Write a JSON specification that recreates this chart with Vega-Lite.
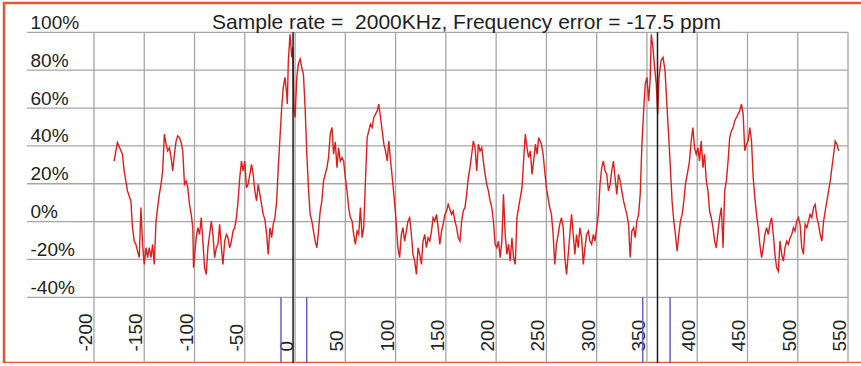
{
  "$schema": "https://vega.github.io/schema/vega-lite/v6.json",
  "width": 859,
  "height": 360,
  "autosize": {"type": "none"},
  "padding": {"left": 4, "top": 3, "right": 0, "bottom": 0},
  "background": "white",
  "config": {"view": {"stroke": "#e5553a", "strokeWidth": 2.5}, "font": "Liberation Sans"},
  "title": {"text": "Sample rate =\u00a0 2000KHz, Frequency error = -17.5 ppm", "fontSize": 21, "fontWeight": "normal", "font": "Liberation Sans", "color": "#1e1e1e", "anchor": "middle", "offset": -30, "dx": 33},
  "datasets": {
    "hgrid": [{"level": -40}, {"level": -20}, {"level": 0}, {"level": 20}, {"level": 40}, {"level": 60}, {"level": 80}, {"level": 100}],
    "vgrid": [{"lag": -200}, {"lag": -150}, {"lag": -100}, {"lag": -50}, {"lag": 0}, {"lag": 50}, {"lag": 100}, {"lag": 150}, {"lag": 200}, {"lag": 250}, {"lag": 300}, {"lag": 350}, {"lag": 400}, {"lag": 450}, {"lag": 500}, {"lag": 550}],
    "blue": [{"lag": -14}, {"lag": 11.6}, {"lag": 345.8}, {"lag": 373}],
    "black": [{"lag": -2}, {"lag": 360.5}],
    "series": [
      {"lag":-180,"level":32},{"lag":-176.7,"level":41.8},{"lag":-171.7,"level":35.6},{"lag":-170,"level":26.8},{"lag":-166.7,"level":16.2},{"lag":-163.3,"level":10.9},{"lag":-161.7,"level":-3.2},{"lag":-160,"level":-10.3},{"lag":-158.3,"level":-12},{"lag":-156.7,"level":-15.6},{"lag":-155,"level":-19},{"lag":-153.3,"level":7.4},{"lag":-151.7,"level":-12},{"lag":-150,"level":-22.6},{"lag":-148.3,"level":-13.8},{"lag":-146.7,"level":-19},{"lag":-145,"level":-13.8},{"lag":-143.3,"level":-19},{"lag":-141.7,"level":-12},{"lag":-140,"level":-22.6},{"lag":-138.3,"level":0.3},{"lag":-136.7,"level":7.4},{"lag":-135,"level":14.4},{"lag":-133.3,"level":19.7},{"lag":-131.7,"level":26.8},{"lag":-130,"level":46.2},{"lag":-128.3,"level":40.9},{"lag":-126.7,"level":37.4},{"lag":-125,"level":39},{"lag":-123.3,"level":33.8},{"lag":-121.7,"level":26.8},{"lag":-120,"level":35.6},{"lag":-118.3,"level":42.6},{"lag":-116.7,"level":45.3},{"lag":-115,"level":44.4},{"lag":-113.3,"level":41.8},{"lag":-111.7,"level":37.4},{"lag":-110,"level":19.7},{"lag":-108.3,"level":21.5},{"lag":-106.7,"level":17.9},{"lag":-105,"level":9.1},{"lag":-103.3,"level":3.8},{"lag":-101.7,"level":-3.2},{"lag":-101,"level":-24.4},{"lag":-98.3,"level":-8.5},{"lag":-96.7,"level":-3.2},{"lag":-95,"level":-6.8},{"lag":-93.3,"level":2.1},{"lag":-91.7,"level":-10.3},{"lag":-90,"level":-24.4},{"lag":-88.3,"level":-27.9},{"lag":-86.7,"level":-13.8},{"lag":-85,"level":-6.8},{"lag":-83.3,"level":0.3},{"lag":-81.7,"level":-6.8},{"lag":-80,"level":-19},{"lag":-78.3,"level":-13.8},{"lag":-76.7,"level":-12},{"lag":-75,"level":-1.4},{"lag":-73.3,"level":-13.8},{"lag":-71.7,"level":-22.6},{"lag":-70,"level":-10.3},{"lag":-68.3,"level":-6.8},{"lag":-66.7,"level":-8.5},{"lag":-65,"level":-13.8},{"lag":-63.3,"level":-10.3},{"lag":-61.7,"level":-5},{"lag":-60,"level":-3.2},{"lag":-58.3,"level":2.1},{"lag":-56.7,"level":10.9},{"lag":-55,"level":23.2},{"lag":-53.3,"level":32},{"lag":-51.7,"level":26.8},{"lag":-50,"level":32},{"lag":-48.3,"level":17.9},{"lag":-46.7,"level":19.7},{"lag":-45,"level":25},{"lag":-43.3,"level":30.3},{"lag":-41.7,"level":25},{"lag":-40,"level":16.2},{"lag":-38.3,"level":10.9},
      {"lag":-36.7,"level":19.7},{"lag":-35,"level":14.4},{"lag":-33.3,"level":9.1},{"lag":-31.7,"level":3.8},{"lag":-30,"level":1.2},{"lag":-28.3,"level":-6.7},{"lag":-26.7,"level":-17.3},{"lag":-25,"level":-3.2},{"lag":-23.3,"level":-8.5},{"lag":-21.7,"level":-1.4},{"lag":-20,"level":2.1},{"lag":-18.3,"level":10.9},{"lag":-16.7,"level":28.5},{"lag":-15,"level":44.4},{"lag":-13.3,"level":60.3},{"lag":-11.7,"level":70.9},{"lag":-10,"level":76.2},{"lag":-8.3,"level":67.4},{"lag":-7.7,"level":62.1},{"lag":-6.7,"level":85},{"lag":-5,"level":99},{"lag":-3.3,"level":86.8},{"lag":-2.3,"level":92},{"lag":-1,"level":58.5},{"lag":0,"level":55},{"lag":1.7,"level":76},{"lag":3.3,"level":83.2},{"lag":5,"level":85.9},{"lag":6.7,"level":81.5},{"lag":8.3,"level":78},{"lag":10,"level":60.3},{"lag":11.7,"level":35.6},{"lag":13.3,"level":17.9},{"lag":15,"level":3.8},{"lag":16.7,"level":0.3},{"lag":18.3,"level":-5},{"lag":20,"level":-10.3},{"lag":21.7,"level":-13.8},{"lag":23.3,"level":-5},{"lag":25,"level":5.6},{"lag":26.7,"level":10.9},{"lag":28.3,"level":21.5},{"lag":30,"level":25},{"lag":31.7,"level":28.5},{"lag":33.3,"level":33.8},{"lag":35,"level":46.2},{"lag":36.7,"level":49.7},{"lag":38.3,"level":35.6},{"lag":40,"level":42.1},{"lag":41.7,"level":28.5},{"lag":43.3,"level":39},{"lag":45,"level":32},{"lag":46.7,"level":33.8},{"lag":48.3,"level":32},{"lag":50,"level":23.2},{"lag":51.7,"level":16.2},{"lag":53.3,"level":7.4},{"lag":55,"level":2.1},{"lag":56.7,"level":0.3},{"lag":58.3,"level":-6.7},{"lag":60,"level":-12},{"lag":61.7,"level":-5},{"lag":63.3,"level":-6.7},{"lag":65,"level":7.4},{"lag":66.7,"level":-8.5},{"lag":68.3,"level":-3.2},{"lag":70,"level":21.5},{"lag":71.7,"level":44.4},{"lag":73.3,"level":47.9},{"lag":75,"level":51.5},{"lag":76.7,"level":49.7},{"lag":78.3,"level":55},{"lag":80,"level":56.8},{"lag":81.7,"level":58.5},{"lag":83.3,"level":62},{"lag":85,"level":55},{"lag":86.7,"level":47.9},{"lag":88.3,"level":40.9},{"lag":90,"level":37.4},{"lag":91.7,"level":32},{"lag":93.3,"level":42.6},{"lag":95,"level":32},{"lag":96.7,"level":23.2},{"lag":98.3,"level":14.4},{"lag":100,"level":3.8},
      {"lag":102.3,"level":-13.8},{"lag":104,"level":-19},{"lag":105.7,"level":-6.8},{"lag":107.3,"level":-3.2},{"lag":109,"level":-10.3},{"lag":110.7,"level":-5},{"lag":112.3,"level":0.3},{"lag":114,"level":2.1},{"lag":115.7,"level":-6.8},{"lag":117.3,"level":-17.3},{"lag":119,"level":-20.9},{"lag":120.7,"level":-27.9},{"lag":122.3,"level":-13.8},{"lag":124,"level":-17.3},{"lag":125.7,"level":-22.6},{"lag":127.3,"level":-10.3},{"lag":129,"level":-6.8},{"lag":130.7,"level":-13.8},{"lag":132.3,"level":-8.5},{"lag":134,"level":-10.3},{"lag":135.7,"level":-5},{"lag":137.3,"level":2.1},{"lag":139,"level":0.3},{"lag":140.7,"level":3.8},{"lag":142.3,"level":-3.2},{"lag":144,"level":-12},{"lag":145.7,"level":-5},{"lag":147.3,"level":-1.4},{"lag":149,"level":3.8},{"lag":150.7,"level":5.6},{"lag":152.3,"level":9.1},{"lag":154,"level":6.5},{"lag":155.7,"level":3.8},{"lag":157.3,"level":5.6},{"lag":159,"level":0.3},{"lag":160.7,"level":-3.2},{"lag":162.3,"level":-8.5},{"lag":164,"level":-10.3},{"lag":165.7,"level":0.3},{"lag":167.3,"level":5.6},{"lag":169,"level":7.4},{"lag":170.7,"level":14.4},{"lag":172.3,"level":23.2},{"lag":174,"level":28.5},{"lag":175.7,"level":35.6},{"lag":177.3,"level":42.6},{"lag":179,"level":39},{"lag":180.7,"level":26.8},{"lag":182.3,"level":40.9},{"lag":184,"level":37.4},{"lag":185.7,"level":39},{"lag":187.3,"level":32},{"lag":189,"level":25},{"lag":190.7,"level":19.7},{"lag":192.3,"level":16.2},{"lag":194,"level":10.9},{"lag":195.7,"level":7.4},{"lag":197.3,"level":0.3},{"lag":199,"level":-12},{"lag":200.7,"level":-13.8},{"lag":202.3,"level":-10.3},{"lag":204,"level":-19},{"lag":205.7,"level":-10.3},{"lag":207.3,"level":14.4},{"lag":209,"level":-6.8},{"lag":210.7,"level":-17.3},{"lag":212.3,"level":-12},{"lag":214,"level":-20.9},{"lag":215.7,"level":-8.5},{"lag":217.3,"level":-19},{"lag":219,"level":-22.6},{"lag":220.7,"level":2.1},{"lag":222.3,"level":7.4},{"lag":224,"level":12.6},{"lag":225.7,"level":17.9},{"lag":227.3,"level":32},{"lag":229,"level":46.2},{"lag":230.7,"level":39},{"lag":232.3,"level":33.8},{"lag":234,"level":37.4},{"lag":235.7,"level":25},{"lag":237.3,"level":32},{"lag":239,"level":40.9},{"lag":240.7,"level":35.6},{"lag":242.3,"level":44.4},
      {"lag":245,"level":40.9},{"lag":246.7,"level":35.6},{"lag":248.3,"level":26.8},{"lag":250,"level":17.9},{"lag":251.7,"level":12.6},{"lag":253.3,"level":7.4},{"lag":255,"level":3.8},{"lag":256.7,"level":-6.8},{"lag":258.3,"level":-22.6},{"lag":260,"level":-12},{"lag":261.7,"level":-6.8},{"lag":263.3,"level":-1.4},{"lag":265,"level":2.1},{"lag":266.7,"level":-3.2},{"lag":268.3,"level":-19},{"lag":270,"level":-27.9},{"lag":271.7,"level":-17.3},{"lag":273.3,"level":-6.8},{"lag":275,"level":3.8},{"lag":276.7,"level":-6.8},{"lag":278.3,"level":-17.3},{"lag":280,"level":-6.8},{"lag":281.7,"level":-13.8},{"lag":283.3,"level":-3.2},{"lag":285,"level":-8.5},{"lag":286.7,"level":-22.6},{"lag":288.3,"level":-13.8},{"lag":290,"level":-6.8},{"lag":291.7,"level":-5},{"lag":293.3,"level":-10.3},{"lag":295,"level":-12},{"lag":296.7,"level":-6.8},{"lag":298.3,"level":-10.3},{"lag":300,"level":-3.2},{"lag":301.7,"level":3.8},{"lag":303.3,"level":19.7},{"lag":305,"level":28.5},{"lag":306.7,"level":32},{"lag":308.3,"level":26.8},{"lag":310,"level":25},{"lag":311.7,"level":16.2},{"lag":313.3,"level":19.7},{"lag":315,"level":26.8},{"lag":316.7,"level":32},{"lag":318.3,"level":23.2},{"lag":320,"level":14.4},{"lag":321.7,"level":25},{"lag":323.3,"level":21.5},{"lag":325,"level":16.2},{"lag":326.7,"level":10.9},{"lag":328.3,"level":7.4},{"lag":330,"level":3.8},{"lag":331.7,"level":-1.4},{"lag":333.3,"level":-19},{"lag":335,"level":-5},{"lag":336.7,"level":-3.2},{"lag":338.3,"level":-8.5},{"lag":340,"level":0.3},{"lag":341.7,"level":3.8},{"lag":343.3,"level":14.4},{"lag":345,"level":40.9},{"lag":346.7,"level":58.5},{"lag":348.3,"level":72.6},{"lag":350,"level":76.2},{"lag":351.7,"level":63.8},{"lag":353.3,"level":76.2},{"lag":354.3,"level":99},{"lag":356,"level":92},{"lag":357.3,"level":83.2},{"lag":359.3,"level":72.6},{"lag":360.7,"level":56.8},{"lag":362,"level":76.2},{"lag":364,"level":85},{"lag":366,"level":86.8},{"lag":368,"level":79.7},{"lag":370,"level":60.3},{"lag":371.7,"level":44.4},{"lag":373.3,"level":28.5},{"lag":375,"level":10.9},{"lag":376.7,"level":0.3},{"lag":378.3,"level":-6.8},{"lag":380,"level":-15.6},{"lag":381.7,"level":-6.8},{"lag":383.3,"level":0.3},{"lag":385,"level":3.8},{"lag":386.7,"level":10.9},{"lag":388.3,"level":19.7},
      {"lag":390.7,"level":26.8},{"lag":392.3,"level":32},{"lag":394,"level":42.6},{"lag":395.7,"level":49.7},{"lag":397.3,"level":39},{"lag":399,"level":35.6},{"lag":400.7,"level":39},{"lag":402.3,"level":32},{"lag":404,"level":42.6},{"lag":405.7,"level":28.5},{"lag":407.3,"level":35.6},{"lag":409,"level":21.5},{"lag":410.7,"level":16.2},{"lag":412.3,"level":5.6},{"lag":414,"level":2.1},{"lag":415.7,"level":-3.2},{"lag":417.3,"level":-10.3},{"lag":419,"level":-13.8},{"lag":420.7,"level":-5},{"lag":422.3,"level":2.1},{"lag":424,"level":7.4},{"lag":425.7,"level":-13.8},{"lag":427.3,"level":16.2},{"lag":429,"level":21.5},{"lag":430.7,"level":32},{"lag":432.3,"level":44.4},{"lag":434,"level":47.9},{"lag":435.7,"level":49.7},{"lag":437.3,"level":53.2},{"lag":439,"level":55},{"lag":440.7,"level":56.8},{"lag":442.3,"level":58.5},{"lag":444,"level":62.1},{"lag":445.7,"level":56.8},{"lag":447.3,"level":37.4},{"lag":449,"level":40.9},{"lag":450.7,"level":42.6},{"lag":452.3,"level":49.7},{"lag":454,"level":42.6},{"lag":455.7,"level":23.2},{"lag":457.3,"level":12.6},{"lag":459,"level":3.8},{"lag":460.7,"level":-3.2},{"lag":462.3,"level":-12},{"lag":464,"level":-19},{"lag":465.7,"level":-13.8},{"lag":467.3,"level":-6.8},{"lag":469,"level":-3.2},{"lag":470.7,"level":-6.8},{"lag":472.3,"level":-1.4},{"lag":474,"level":2.1},{"lag":475.7,"level":-6.8},{"lag":477.3,"level":-17.3},{"lag":479,"level":-24.4},{"lag":480.7,"level":-26.2},{"lag":482.3,"level":-10.3},{"lag":484,"level":-17.3},{"lag":485.7,"level":-20.9},{"lag":487.3,"level":-13.8},{"lag":489,"level":-10.3},{"lag":490.7,"level":-12},{"lag":492.3,"level":-8.5},{"lag":494,"level":-6.8},{"lag":495.7,"level":-3.2},{"lag":497.3,"level":-5},{"lag":499,"level":0.3},{"lag":500.7,"level":2.1},{"lag":502.3,"level":-1.4},{"lag":504,"level":-13.8},{"lag":505.7,"level":-17.3},{"lag":507.3,"level":-1.4},{"lag":509,"level":-3.2},{"lag":510.7,"level":0.3},{"lag":512.3,"level":3.8},{"lag":514,"level":2.1},{"lag":515.7,"level":7.4},{"lag":517.3,"level":9.1},{"lag":519,"level":2.1},{"lag":520.7,"level":-1.4},{"lag":522.3,"level":-6.8},{"lag":524,"level":-10.3},{"lag":525.7,"level":0.3},{"lag":527.3,"level":5.6},{"lag":529,"level":10.9},{"lag":530.7,"level":16.2},{"lag":532.3,"level":21.5},{"lag":534,"level":28.5},{"lag":535.7,"level":35.6},{"lag":537.3,"level":42.6},{"lag":539,"level":40.9},{"lag":540.7,"level":37.4}
    ]
  },
  "layer": [
    {
      "data": {"name": "hgrid"},
      "mark": {"type": "rule", "color": "#a5a5a5", "strokeWidth": 1.3},
      "encoding": {
        "y": {"field": "level", "type": "quantitative", "title": null, "scale": {"domain": [-74.7, 115.5], "nice": false, "zero": false},
          "axis": {"values": [-40, -20, 0, 20, 40, 60, 80, 100], "labelExpr": "datum.value + '%'", "labelAlign": "left", "labelBaseline": "alphabetic", "labelPadding": -26, "labelOffset": -4, "domain": false, "ticks": false, "grid": false, "title": null, "labelFontSize": 19, "labelColor": "#222222", "labelFont": "Liberation Sans", "labelFlush": false, "labelOverlap": false, "labelBound": false}},
        "x": {"datum": -266.6, "type": "quantitative", "title": null, "scale": {"domain": [-289.5, 564.9], "nice": false, "zero": false},
          "axis": {"values": [-200, -150, -100, -50, 0, 50, 100, 150, 200, 250, 300, 350, 400, 450, 500, 550], "labelExpr": "datum.value + ''", "labelAngle": 270, "labelAlign": "left", "labelBaseline": "alphabetic", "labelPadding": -12, "labelOffset": -2.5, "domain": false, "ticks": false, "grid": false, "title": null, "labelFontSize": 19, "labelColor": "#222222", "labelFont": "Liberation Sans", "labelFlush": false, "labelOverlap": false, "labelBound": false}},
        "x2": {"datum": 550}
      }
    },
    {
      "data": {"name": "vgrid"},
      "mark": {"type": "rule", "color": "#a5a5a5", "strokeWidth": 1.3},
      "encoding": {
        "x": {"field": "lag", "type": "quantitative", "title": null},
        "y": {"datum": 100, "type": "quantitative", "title": null},
        "y2": {"datum": -74.7}
      }
    },
    {
      "data": {"name": "blue"},
      "mark": {"type": "rule", "color": "#6a5fc9", "strokeWidth": 1.5},
      "encoding": {
        "x": {"field": "lag", "type": "quantitative", "title": null},
        "y": {"datum": -40, "type": "quantitative", "title": null},
        "y2": {"datum": -74.7}
      }
    },
    {
      "data": {"name": "series"},
      "mark": {"type": "line", "color": "#dc1f1a", "strokeWidth": 1.4, "clip": true},
      "encoding": {
        "x": {"field": "lag", "type": "quantitative", "title": null},
        "y": {"field": "level", "type": "quantitative", "title": null}
      }
    },
    {
      "data": {"name": "black"},
      "mark": {"type": "rule", "color": "#1a1a1a", "strokeWidth": 1.5},
      "encoding": {
        "x": {"field": "lag", "type": "quantitative", "title": null},
        "y": {"datum": 100, "type": "quantitative", "title": null},
        "y2": {"datum": -74.7}
      }
    }
  ]
}
